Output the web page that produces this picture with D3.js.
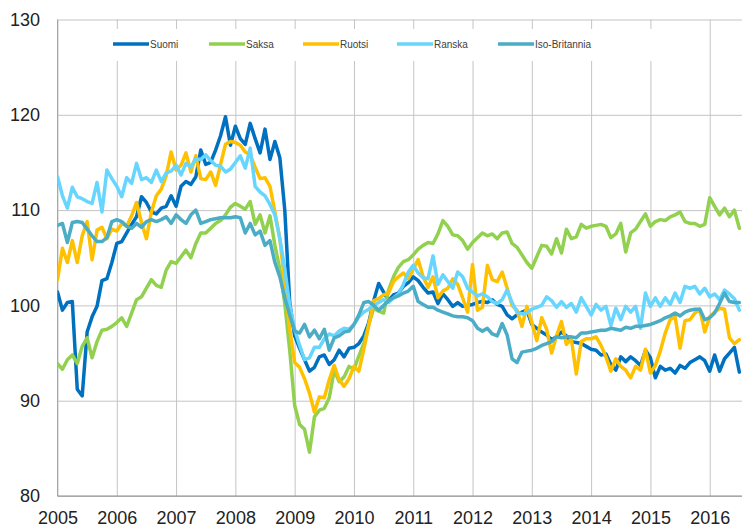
<!DOCTYPE html>
<html>
<head>
<meta charset="utf-8">
<script src="https://cdn.jsdelivr.net/npm/d3@7"></script>
<style>
  body { margin: 0; background: #fff; }
  svg { display: block; font-family: "Liberation Sans", Arial, sans-serif; }
</style>
</head>
<body>
<svg id="chart" width="742" height="529"></svg>
<script>
// monthly index values, Jan 2005 .. Jul 2016
const years = [2005, 2006, 2007, 2008, 2009, 2010, 2011, 2012, 2013, 2014, 2015, 2016];
const yTicks = [80, 90, 100, 110, 120, 130];
const seriesNames = ["Suomi", "Saksa", "Ruotsi", "Ranska", "Iso-Britannia"];
const seriesColors = ["#0070C0", "#92D050", "#FFC000", "#66D6FF", "#4BACC6"];

const suomi = [
  101.4, 99.5, 100.3, 100.4, 91.2, 90.5, 97.2, 98.8, 99.9, 102.6, 102.8, 104.5,
  106.5, 106.7, 107.6, 108.5, 109.3, 111.4, 110.8, 109.8, 109.6, 110.2, 110.4, 111.5,
  110.4, 112.5, 113.0, 112.7, 113.5, 116.3, 114.8, 115.0, 116.3, 117.8, 119.8, 116.8,
  118.8, 117.5, 116.9, 119.1, 117.5, 116.0, 118.5, 115.3, 117.2, 115.5, 110.0, 100.3,
  96.8, 95.5, 94.3, 93.1, 93.5, 94.6, 94.8, 93.8, 94.3, 95.3, 94.6, 95.5,
  95.6, 96.0, 96.8, 98.2, 100.5, 102.3, 101.4, 100.5, 101.1, 101.3, 102.0, 102.4,
  103.0, 102.6, 101.9, 101.3, 101.4, 100.2, 101.2, 100.6, 99.9, 100.3, 99.9, 100.0,
  100.1, 100.3, 100.4, 100.3, 100.6, 100.1, 99.9, 99.0, 98.6, 99.0, 99.3, 99.5,
  98.0, 97.6, 97.2, 96.9, 96.4, 96.7, 97.2, 96.8, 96.2, 96.1, 96.0, 95.7,
  95.4, 95.3, 94.8, 94.9, 93.8, 93.2, 94.6, 94.1, 94.6, 94.2, 93.7, 95.3,
  94.5, 92.4, 93.6, 93.2, 93.4, 92.9, 93.7, 93.4, 94.0, 94.3, 94.6, 94.2,
  93.1, 94.8, 93.1, 94.4, 95.0, 95.6, 93.0
];
const saksa = [
  93.9, 93.3, 94.3, 94.8, 93.9, 95.7, 96.6, 94.5, 96.2, 97.4, 97.5, 97.8,
  98.2, 98.7, 97.8, 99.2, 100.6, 100.9, 101.8, 102.7, 102.1, 101.9, 103.7, 104.6,
  104.4, 105.1, 105.8, 105.0, 106.5, 107.6, 107.6, 108.1, 108.6, 108.9, 109.5, 110.3,
  110.7, 110.4, 110.1, 110.9, 108.5, 109.5, 107.6, 109.4, 106.3, 103.8, 100.2, 95.3,
  89.5, 87.5, 87.0, 84.6, 88.3, 89.0, 89.2, 90.3, 93.2, 92.0, 92.5, 93.6,
  93.3, 94.7, 96.0, 98.0, 99.7, 99.4, 99.2, 101.6, 103.0, 104.0, 104.6, 104.8,
  105.3, 105.9, 106.3, 106.6, 106.5, 107.5, 108.9, 108.3, 107.4, 107.3, 106.8, 105.9,
  106.6, 107.1, 107.6, 107.3, 107.5, 107.0, 107.6, 107.7, 106.5, 106.1, 105.3, 104.5,
  103.9, 105.1, 106.3, 106.2, 105.4, 107.0, 105.5, 108.0, 107.0, 107.2, 108.5, 108.1,
  108.3, 108.4, 108.5, 108.3, 107.1, 107.5, 108.6, 105.6, 107.6, 108.0, 108.8, 109.6,
  108.3, 108.8, 109.0, 108.9, 109.3, 109.5, 109.8, 108.8, 108.6, 108.6, 108.3, 108.5,
  111.3, 110.4, 109.5, 110.2, 109.3, 110.0, 108.1
];
const ruotsi = [
  102.7, 106.0, 104.5, 106.8, 104.5, 107.3, 108.8, 104.8, 107.9, 108.2, 107.0, 108.0,
  107.8, 108.6, 108.3, 109.4, 110.8, 108.7, 107.0, 109.8, 111.5, 112.2, 113.6, 116.1,
  114.2, 114.7, 116.0, 114.0, 115.7, 113.3, 113.2, 114.0, 112.6, 114.8, 116.9, 117.2,
  117.1, 116.8, 116.1, 115.8, 114.5, 113.3, 113.4, 112.5, 109.8, 107.0, 102.3, 97.5,
  94.0, 93.5, 92.3, 90.8, 88.8, 90.4, 90.3, 92.2, 93.7, 92.2, 91.5, 92.3,
  93.6, 93.1, 95.4, 97.9, 100.5, 100.7, 101.1, 101.3, 102.5, 103.0, 103.4, 102.8,
  103.8, 104.8, 103.0, 101.9, 103.0, 100.8, 101.5, 101.8, 102.8, 102.2, 100.8, 99.3,
  104.3, 99.5, 99.8, 104.2, 102.7, 102.5, 103.5, 101.8, 100.0, 99.5, 97.8, 99.9,
  98.2, 96.3, 98.7, 97.5, 95.0, 96.8, 98.3, 95.9, 96.5, 92.8, 96.2, 96.5,
  96.5, 96.7, 95.8, 94.6, 93.1, 94.4, 93.6, 93.2, 92.4, 93.6, 93.2, 95.4,
  92.9, 93.7, 95.2, 97.1, 98.5, 98.8, 95.5, 98.4, 98.5, 99.2, 99.6, 97.2,
  98.8, 99.3, 99.7, 99.6, 96.6, 96.0, 96.4
];
const ranska = [
  113.5, 111.5, 110.2, 112.4, 111.4, 111.2, 110.9, 110.7, 112.9, 109.8, 114.2, 113.3,
  112.5, 111.4, 113.4, 112.8, 114.9, 113.2, 113.4, 112.9, 114.2, 113.0, 113.9, 114.1,
  114.7, 113.7, 114.9, 114.5, 115.4, 115.3, 115.8, 115.2, 114.7, 114.6, 114.0, 114.3,
  115.0, 115.7, 114.4, 116.5, 112.5, 111.9, 111.5, 110.6, 109.5, 107.0, 103.8, 100.0,
  97.5, 95.8, 94.3, 94.5, 95.6, 95.6, 96.5, 97.0, 96.8, 97.3, 97.6, 97.5,
  98.0, 98.8, 99.3, 99.6, 100.0, 100.3, 100.6, 100.3, 100.8, 101.2, 102.2, 103.5,
  104.2, 103.4, 102.9, 102.8, 105.2, 102.2, 103.2, 102.5, 101.8, 103.5, 103.0, 101.8,
  101.4, 101.0, 101.2, 100.9, 100.4, 100.2, 100.6, 101.6, 100.3, 99.3, 99.1, 99.2,
  99.6, 99.8, 100.0, 100.9, 100.5, 99.8, 100.4, 99.8, 100.2, 99.3, 100.8, 99.9,
  99.0, 100.1, 99.5, 99.9, 97.9, 99.7, 98.5, 99.9, 99.3, 99.9, 97.6, 101.3,
  99.9, 100.8, 99.9, 100.8, 100.1, 101.3, 100.3, 102.0, 101.8, 102.0, 101.2, 101.8,
  100.9, 101.2, 100.6, 101.6, 101.2, 100.7, 99.5
];
const isoBritannia = [
  108.4, 108.6, 106.6, 108.7, 108.8, 108.7, 108.0, 107.3, 106.7, 106.7, 107.1, 108.8,
  109.0, 108.8, 108.3, 108.1, 108.6, 108.2, 108.8, 109.0, 108.8, 109.0, 109.3, 108.6,
  109.5, 109.0, 108.6, 109.5, 110.0, 108.6, 108.8, 109.0, 109.1, 109.2, 109.2, 109.2,
  109.3, 109.2, 107.6, 108.6, 107.4, 107.8, 106.3, 106.8, 104.5, 103.0, 100.8, 99.0,
  97.3, 97.1, 98.0, 96.7, 97.4, 96.5, 97.5, 95.3, 96.6, 96.8, 97.2, 97.3,
  98.0, 99.0, 100.3, 100.4, 100.0, 99.5, 100.0, 100.5, 100.8, 101.0, 101.3, 101.5,
  102.0, 100.4, 100.1, 99.8, 99.8, 99.5, 99.3, 99.1, 98.9, 98.8, 98.8, 98.7,
  98.4, 97.6, 97.3, 97.6, 97.0, 96.8, 98.1, 96.9, 94.4, 94.0, 95.1, 95.2,
  95.3, 95.5, 95.8, 96.0, 96.2, 96.7, 96.6, 96.7, 96.7, 96.6, 97.1, 97.1,
  97.2, 97.3, 97.4, 97.4, 97.6, 97.5, 97.4, 97.7, 97.6, 97.8, 97.8, 97.9,
  98.0, 98.2, 98.4, 98.7, 98.9, 99.2, 98.9, 99.3, 99.5, 99.6, 99.6, 98.5,
  98.7, 99.2, 100.2, 101.3, 100.4, 100.3, 100.3
];

const allSeries = [suomi, saksa, ruotsi, ranska, isoBritannia];

const width = 742, height = 529;
const plotLeft = 57.5, plotTop = 19.5, plotBottom = 496;

const svg = d3.select("#chart");

// x: month index from Jan 2005, y: index value
const x = d3.scaleLinear().domain([0, 132]).range([plotLeft, 709.7]);
const y = d3.scaleLinear().domain([80, 130]).range([plotBottom, plotTop]);
const yearIdx = years.map((d, i) => i * 12);

// grid
svg.append("g")
  .attr("transform", "translate(" + plotLeft + ",0)")
  .call(d3.axisLeft(y).tickValues(yTicks).tickSize(-(width - plotLeft)).tickFormat(""))
  .call(g => g.select(".domain").remove())
  .call(g => g.selectAll("line").attr("stroke", "#C4C4C4"));

svg.append("g")
  .attr("transform", "translate(0," + plotBottom + ")")
  .call(d3.axisBottom(x).tickValues(yearIdx).tickSize(-(plotBottom - plotTop)).tickFormat(""))
  .call(g => g.select(".domain").remove())
  .call(g => g.selectAll("line").attr("stroke", "#C4C4C4"));

// axis lines
svg.append("line")
  .attr("x1", plotLeft).attr("x2", plotLeft).attr("y1", plotTop).attr("y2", plotBottom)
  .attr("stroke", "#A8A8A8");
svg.append("line")
  .attr("x1", plotLeft).attr("x2", width).attr("y1", plotBottom).attr("y2", plotBottom)
  .attr("stroke", "#8C8C8C");

// tick labels
svg.append("g")
  .attr("transform", "translate(40,0)")
  .call(d3.axisLeft(y).tickValues(yTicks).tickSize(0).tickPadding(0))
  .call(g => g.select(".domain").remove())
  .call(g => g.selectAll("text")
    .attr("font-size", 18).attr("fill", "#222")
    .attr("font-family", "'Liberation Sans', Arial, sans-serif"));

svg.append("g")
  .attr("transform", "translate(0," + plotBottom + ")")
  .call(d3.axisBottom(x).tickValues(yearIdx).tickSize(0).tickPadding(15)
    .tickFormat((d, i) => years[i]))
  .call(g => g.select(".domain").remove())
  .call(g => g.selectAll("text")
    .attr("font-size", 18).attr("fill", "#222")
    .attr("font-family", "'Liberation Sans', Arial, sans-serif"));

// lines
svg.append("clipPath").attr("id", "plot")
  .append("rect").attr("x", plotLeft).attr("y", 0).attr("width", width - plotLeft).attr("height", plotBottom);

const line = d3.line()
  .x((d, i) => x(i))
  .y(d => y(d));

svg.append("g").attr("clip-path", "url(#plot)")
  .selectAll("path")
  .data(allSeries)
  .join("path")
  .attr("d", line)
  .attr("fill", "none")
  .attr("stroke", (d, i) => seriesColors[i])
  .attr("stroke-width", 3.5)
  .attr("stroke-linejoin", "round")
  .attr("stroke-linecap", "round");

// legend
svg.append("rect")
  .attr("x", 96).attr("y", 29).attr("width", 608).attr("height", 32)
  .attr("fill", "#fff");

const legendX = [113, 209, 303, 397, 498];
const leg = svg.append("g").selectAll("g")
  .data(seriesNames)
  .join("g")
  .attr("transform", (d, i) => "translate(" + legendX[i] + ",44)");

leg.append("line")
  .attr("x1", 0).attr("x2", 36)
  .attr("stroke", (d, i) => seriesColors[i])
  .attr("stroke-width", 3.5);

leg.append("text")
  .attr("x", 37)
  .attr("dy", "0.35em")
  .attr("font-size", 10)
  .attr("fill", "#404040")
  .text(d => d);
</script>
</body>
</html>
